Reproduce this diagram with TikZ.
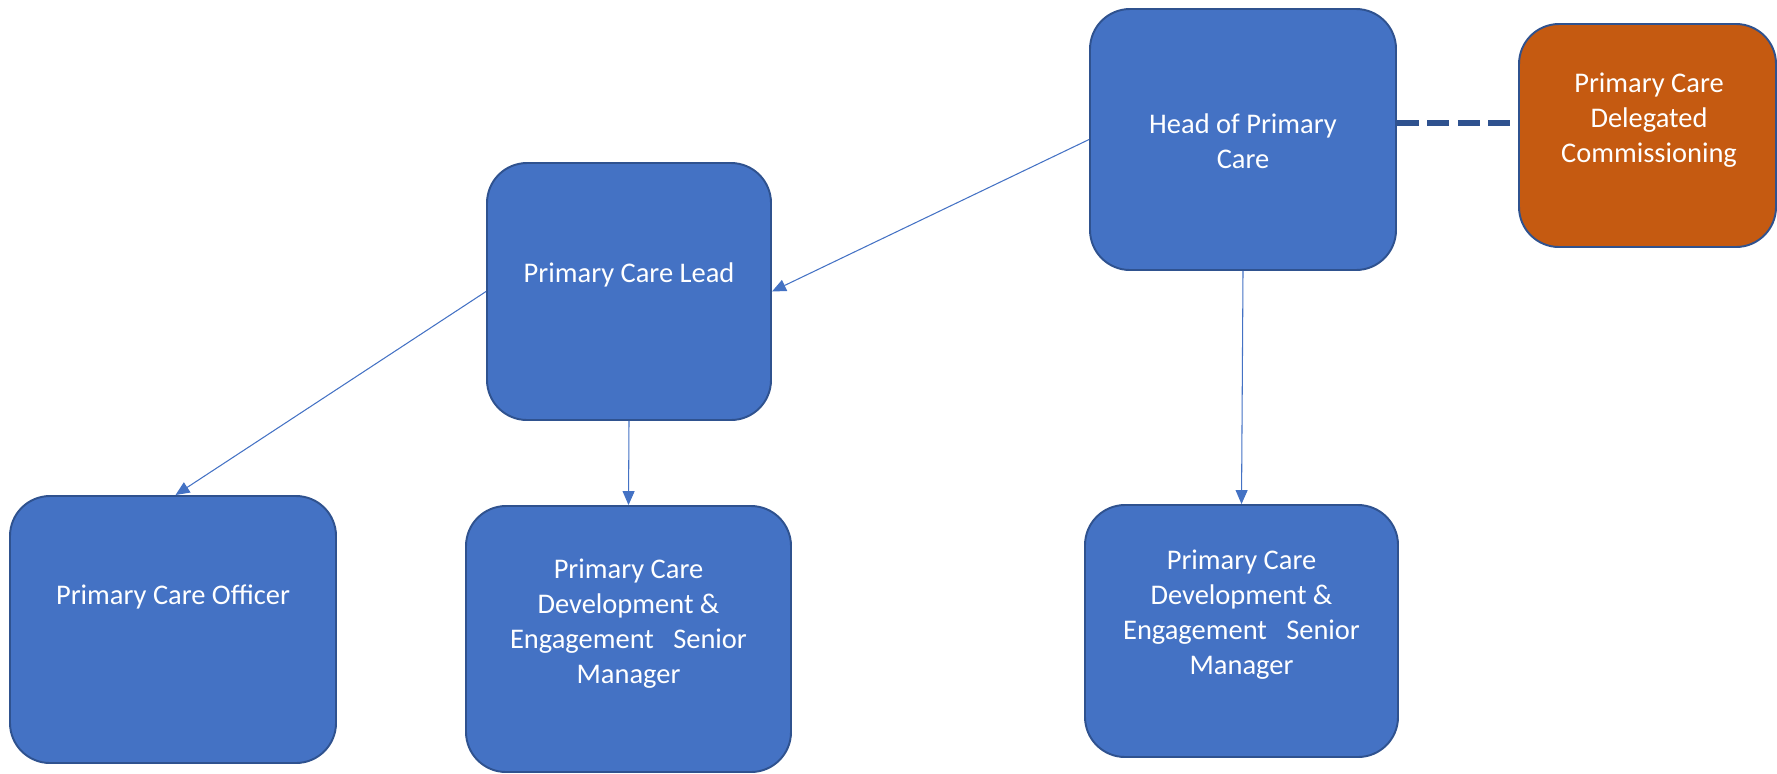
\documentclass[tikz,border=0pt]{standalone}
\usepackage{fontspec}
\setmainfont{Carlito}
\usepackage{xcolor}
\usetikzlibrary{arrows.meta}
\definecolor{boxblue}{HTML}{4472C4}
\definecolor{edgeblue}{HTML}{2F528F}
\definecolor{boxorange}{HTML}{C55A11}

\begin{document}
\begin{tikzpicture}[
  box/.style={draw=edgeblue, line width=1.1pt, fill=boxblue, rounded corners=0.8cm, inner sep=0pt},
  txt/.style={text=white, align=center, font=\fontsize{16.2}{19.9}\selectfont, inner sep=0pt},
  link/.style={draw=boxblue, line width=0.6pt, -{Triangle[length=0.28cm,width=0.24cm]}}
]
\useasboundingbox (0,0) rectangle (35.54,-15.46);

\node [box, minimum width=6.12cm, minimum height=5.22cm] (head) at (24.86,-2.79) {};
\node [box, fill=boxorange, minimum width=5.14cm, minimum height=4.46cm] (deleg) at (32.95,-2.71) {};
\node [box, minimum width=5.68cm, minimum height=5.14cm] (lead) at (12.58,-5.83) {};
\node [box, minimum width=6.52cm, minimum height=5.34cm] (officer) at (3.46,-12.59) {};
\node [box, minimum width=6.5cm, minimum height=5.32cm] (pcdl) at (12.57,-12.78) {};
\node [box, minimum width=6.26cm, minimum height=5.04cm] (pcdr) at (24.83,-12.62) {};

\node [txt] (head-t) at (24.86,-2.82) {Head of Primary\\Care};
\node [txt] (deleg-t) at (32.98,-2.40) {Primary Care\\Delegated\\Commissioning};
\node [txt] (lead-t) at (12.58,-5.50) {Primary Care Lead};
\node [txt] (officer-t) at (3.46,-11.94) {Primary Care Officer};
\node [txt] (pcdl-t) at (12.57,-12.48) {Primary Care\\Development \&\\Engagement\ \ \ Senior\\Manager};
\node [txt] (pcdr-t) at (24.83,-12.29) {Primary Care\\Development \&\\Engagement\ \ \ Senior\\Manager};

\coordinate (dash-a) at ([yshift=0.33cm]head.east);
\coordinate (dash-b) at (dash-a -| deleg.west);

\draw [link] (head.west) -- (lead.east);
\draw [link] (lead.west) -- ([xshift=0.05cm]officer.north);
\draw [link] (lead.south) -- (pcdl.north);
\draw [link] (head.south) -- (pcdr.north);
\draw [edgeblue, line width=3.4pt, dash pattern=on 12.5pt off 4.8pt] (dash-a) -- (dash-b);
\end{tikzpicture}
\end{document}
